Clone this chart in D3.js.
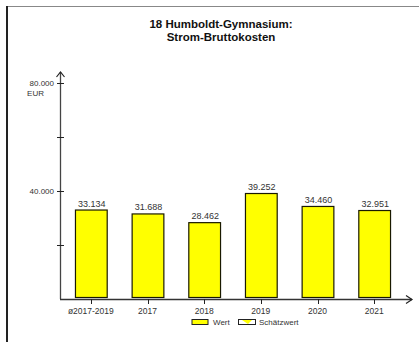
<!DOCTYPE html>
<html><head><meta charset="utf-8">
<script src="https://cdn.jsdelivr.net/npm/d3@7"></script>
<style>body{margin:0;background:#fff}svg{display:block;font-family:"Liberation Sans",Arial,sans-serif}</style>
</head><body><svg id="c" width="419" height="342"></svg>
<script>
const categories = ["ø2017-2019","2017","2018","2019","2020","2021"];
const values = [33134, 31688, 28462, 39252, 34460, 32951];
const valueLabels = ["33.134","31.688","28.462","39.252","34.460","32.951"];
const yTicks = [0, 20000, 40000, 60000, 80000];
const yTickLabels = {40000:"40.000", 80000:"80.000"};
const titleLines = ["18 Humboldt-Gymnasium:", "Strom-Bruttokosten"];
const legendItems = ["Wert", "Schätzwert"];

const svg = d3.select("#c");
// frame
svg.append("line").attr("x1",7).attr("x2",419).attr("y1",6.5).attr("y2",6.5).attr("stroke","#888").attr("stroke-width",1);
svg.append("line").attr("x1",7).attr("x2",7).attr("y1",6).attr("y2",342).attr("stroke","#222").attr("stroke-width",2);

// title
svg.append("text").attr("x",221).attr("y",28).attr("text-anchor","middle").attr("font-size",11.5).attr("font-weight","bold").attr("fill","#111").text(titleLines[0]);
svg.append("text").attr("x",221).attr("y",41).attr("text-anchor","middle").attr("font-size",11.5).attr("font-weight","bold").attr("fill","#111").text(titleLines[1]);

const y = d3.scaleLinear().domain([0,80000]).range([299,83]);
const x = d3.scaleBand().domain(categories).range([62.5,402.5]).paddingInner(0.44).paddingOuter(0.22);

// y axis
const ax = "#444";
svg.append("line").attr("x1",60.5).attr("x2",60.5).attr("y1",299).attr("y2",72).attr("stroke",ax).attr("stroke-width",1.3);
svg.append("path").attr("d","M56.5,77 L60.5,72 L64.5,77").attr("fill","none").attr("stroke","#222").attr("stroke-width",1.2);
svg.selectAll(".yt").data(yTicks.filter(d=>d>0)).enter().append("line")
  .attr("x1",57).attr("x2",64).attr("y1",d=>Math.round(y(d))+0.5).attr("y2",d=>Math.round(y(d))+0.5).attr("stroke","#222").attr("stroke-width",1);
svg.selectAll(".yl").data(yTicks.filter(d=>yTickLabels[d])).enter().append("text")
  .attr("x",54).attr("y",d=>y(d)+3).attr("text-anchor","end").attr("font-size",8).attr("fill","#333").text(d=>yTickLabels[d]);
svg.append("text").attr("x",44).attr("y",96).attr("text-anchor","end").attr("font-size",8).attr("fill","#333").text("EUR");

// bars
svg.selectAll(".bar").data(values).enter().append("rect")
  .attr("x",(d,i)=>x(categories[i])+0.5).attr("width",x.bandwidth())
  .attr("y",d=>y(d)+0.5).attr("height",d=>y(0)-2-y(d))
  .attr("fill","#ffff00").attr("stroke","#1a1a00").attr("stroke-width",1.2);
svg.selectAll(".vl").data(values).enter().append("text")
  .attr("x",(d,i)=>x(categories[i])+x.bandwidth()/2+1).attr("y",d=>y(d)-3)
  .attr("text-anchor","middle").attr("font-size",9).attr("fill","#333").text((d,i)=>valueLabels[i]);

// x axis
svg.append("line").attr("x1",60).attr("x2",412).attr("y1",299.5).attr("y2",299.5).attr("stroke","#333").attr("stroke-width",1.3);
svg.append("path").attr("d","M406,295.5 L412,299.5 L406,303.5").attr("fill","none").attr("stroke","#222").attr("stroke-width",1.2);
svg.selectAll(".xt").data(categories).enter().append("line")
  .attr("x1",d=>Math.round(x(d)+x.bandwidth()/2)+0.5).attr("x2",d=>Math.round(x(d)+x.bandwidth()/2)+0.5)
  .attr("y1",299).attr("y2",304).attr("stroke","#222");
svg.selectAll(".xl").data(categories).enter().append("text")
  .attr("x",d=>x(d)+x.bandwidth()/2).attr("y",314).attr("text-anchor","middle").attr("font-size",8.5).attr("fill","#333").text(d=>d);

// legend
const lg = svg.append("g");
lg.append("rect").attr("x",192).attr("y",319.5).attr("width",16).attr("height",5).attr("fill","#ffff00").attr("stroke","#222").attr("stroke-width",1);
lg.append("text").attr("x",213).attr("y",325).attr("font-size",8).attr("fill","#333").text(legendItems[0]);
lg.append("rect").attr("x",238.5).attr("y",319.5).attr("width",17).attr("height",5).attr("fill","#fff").attr("stroke","#222").attr("stroke-width",1);
lg.append("path").attr("d","M242,320 L252,320 L248,324 Z").attr("fill","#ffff00");
lg.append("text").attr("x",259).attr("y",325).attr("font-size",8).attr("fill","#333").text(legendItems[1]);
</script></body></html>
